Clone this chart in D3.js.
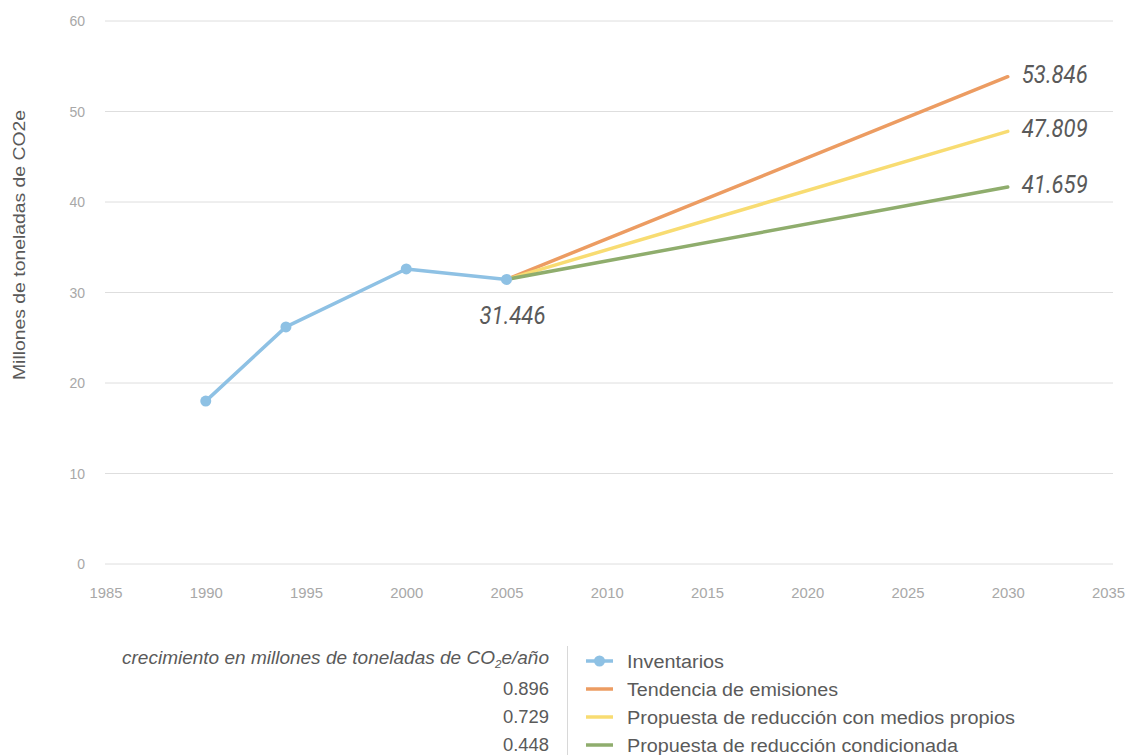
<!DOCTYPE html>
<html>
<head>
<meta charset="utf-8">
<script src="https://cdn.jsdelivr.net/npm/d3@7"></script>
<style>
  html, body { margin: 0; padding: 0; background: #fff; }
  svg { display: block; font-family: Roboto, "Liberation Sans", sans-serif; }
  .body-text { font-family: "Liberation Sans", Arial, sans-serif; }
</style>
</head>
<body>
<svg id="chart" width="1129" height="755"></svg>
<script>
// Emission inventories (years and millions of t CO2e)
const inventoryYears = [1990, 1994, 2000, 2005];
const inventoryValues = [18.0, 26.2, 32.6, 31.446];

// Projections from 2005 to 2030
const projectionNames = ["Tendencia de emisiones", "Propuesta de reducción con medios propios", "Propuesta de reducción condicionada"];
const projectionStart = [2005, 31.446];
const projectionEndYear = 2030;
const projectionEndValues = [53.846, 47.809, 41.659];
const growthRates = ["0.896", "0.729", "0.448"];

const xTicks = [1985, 1990, 1995, 2000, 2005, 2010, 2015, 2020, 2025, 2030, 2035];
const yTicks = [0, 10, 20, 30, 40, 50, 60];

const colors = {
  inventory: "#8ec1e4",
  projections: ["#ec9c62", "#f8dc72", "#8fad6d"]
};

const svg = d3.select("#chart");
const x = d3.scaleLinear().domain([1985, 2035]).range([105.5, 1108]);
const y = d3.scaleLinear().domain([0, 60]).range([564, 21]);

// Horizontal gridlines
svg.append("g")
  .selectAll("line")
  .data(yTicks)
  .join("line")
  .attr("x1", 105).attr("x2", 1113)
  .attr("y1", d => y(d)).attr("y2", d => y(d))
  .attr("stroke", "#dedede").attr("stroke-width", 1);

// Y axis tick labels
const yAxis = svg.append("g")
  .attr("transform", "translate(85,0)")
  .call(d3.axisLeft(y).tickValues(yTicks).tickSize(0).tickPadding(0));
yAxis.select(".domain").remove();
yAxis.selectAll("text")
  .attr("fill", "#a8a8a8").attr("font-size", 14).attr("dy", "0.35em");

// X axis tick labels
const xAxis = svg.append("g")
  .attr("transform", "translate(0,598)")
  .call(d3.axisBottom(x).tickValues(xTicks).tickFormat(d3.format("d")).tickSize(0).tickPadding(0));
xAxis.select(".domain").remove();
xAxis.selectAll("text")
  .attr("fill", "#a8a8a8").attr("font-size", 14).attr("dy", 0)
  .attr("textLength", 33).attr("lengthAdjust", "spacingAndGlyphs");

// Y axis title
svg.append("text")
  .attr("class", "body-text")
  .attr("transform", `translate(25,${245}) rotate(-90)`)
  .attr("text-anchor", "middle")
  .attr("fill", "#595959").attr("font-size", 17)
  .attr("textLength", 270).attr("lengthAdjust", "spacingAndGlyphs")
  .text("Millones de toneladas de CO2e");

// Projection lines
const projGroup = svg.append("g");
projectionEndValues.forEach((v, i) => {
  projGroup.append("line")
    .attr("x1", x(projectionStart[0])).attr("y1", y(projectionStart[1]))
    .attr("x2", x(projectionEndYear)).attr("y2", y(v))
    .attr("stroke", colors.projections[i]).attr("stroke-width", 3.5)
    .attr("stroke-linecap", "round");
});

// Inventory line with markers
const invData = inventoryYears.map((yr, i) => [yr, inventoryValues[i]]);
svg.append("path")
  .datum(invData)
  .attr("fill", "none")
  .attr("stroke", colors.inventory).attr("stroke-width", 3.5)
  .attr("stroke-linejoin", "round")
  .attr("d", d3.line().x(d => x(d[0])).y(d => y(d[1])));
svg.append("g")
  .selectAll("circle")
  .data(invData)
  .join("circle")
  .attr("cx", d => x(d[0])).attr("cy", d => y(d[1]))
  .attr("r", 5.5).attr("fill", colors.inventory);

// Value labels
const fmt = d3.format(".3f");
function valueLabel(px, py, text) {
  svg.append("text")
    .attr("x", px).attr("y", py)
    .attr("fill", "#5a5a5a").attr("font-size", 25).attr("font-style", "italic")
    .attr("textLength", 66).attr("lengthAdjust", "spacingAndGlyphs")
    .text(text);
}
valueLabel(x(projectionStart[0]) - 27, y(projectionStart[1]) + 45, fmt(projectionStart[1]));
projectionEndValues.forEach(v => {
  valueLabel(x(projectionEndYear) + 14, y(v) + 6, fmt(v));
});

// Legend: growth header and rates on the left
const legend = svg.append("g").attr("class", "body-text");
const header = legend.append("text")
  .attr("x", 549).attr("y", 664)
  .attr("text-anchor", "end")
  .attr("fill", "#5a5a5a").attr("font-size", 18).attr("font-style", "italic")
  .attr("textLength", 427).attr("lengthAdjust", "spacingAndGlyphs");
header.append("tspan").text("crecimiento en millones de toneladas de CO");
header.append("tspan").attr("font-size", 11).attr("dy", 4).text("2");
header.append("tspan").attr("dy", -4).text("e/año");

const rowY = [661, 689, 717, 745];
growthRates.forEach((r, i) => {
  legend.append("text")
    .attr("x", 549).attr("y", rowY[i + 1] + 6)
    .attr("text-anchor", "end")
    .attr("fill", "#5a5a5a").attr("font-size", 18)
    .attr("textLength", 46).attr("lengthAdjust", "spacingAndGlyphs")
    .text(r);
});

// Separator
legend.append("line")
  .attr("x1", 567.5).attr("x2", 567.5).attr("y1", 646).attr("y2", 755)
  .attr("stroke", "#d8d8d8").attr("stroke-width", 1);

// Legend entries on the right
const entries = [{ name: "Inventarios", color: colors.inventory, marker: true, w: 97 }]
  .concat(projectionNames.map((n, i) => ({ name: n, color: colors.projections[i], marker: false, w: [211, 388, 331][i] })));
entries.forEach((e, i) => {
  const g = legend.append("g").attr("transform", `translate(0,${rowY[i]})`);
  g.append("line")
    .attr("x1", 586).attr("x2", 613).attr("y1", 0).attr("y2", 0)
    .attr("stroke", e.color).attr("stroke-width", 3.5);
  if (e.marker) {
    g.append("circle").attr("cx", 599.5).attr("cy", 0).attr("r", 5.5).attr("fill", e.color);
  }
  g.append("text")
    .attr("x", 627).attr("y", 6.5)
    .attr("fill", "#5a5a5a").attr("font-size", 18)
    .attr("textLength", e.w).attr("lengthAdjust", "spacingAndGlyphs")
    .text(e.name);
});
</script>
</body>
</html>
